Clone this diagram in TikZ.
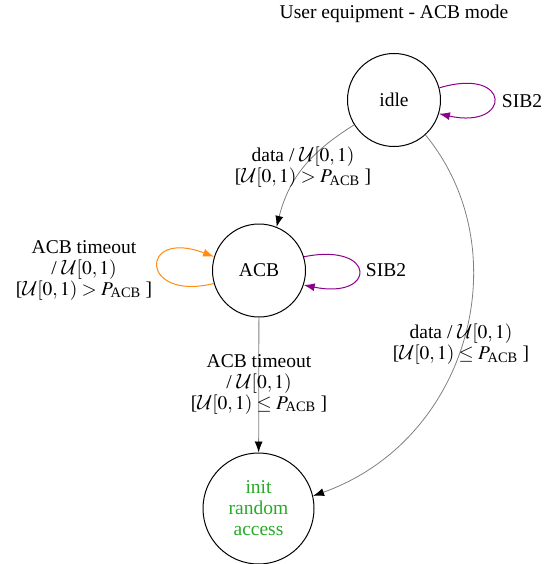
\documentclass[tikz,border=0pt]{standalone}
\usepackage{amsmath}
\usepackage{mathptmx}
\DeclareMathAlphabet{\mathcal}{OMS}{cmsy}{m}{n}
\usepackage{fontspec}
\setmainfont{Liberation Serif}
\usetikzlibrary{arrows.meta}
\definecolor{loopviolet}{RGB}{140,0,140}
\definecolor{looporange}{RGB}{255,140,20}
\definecolor{initgreen}{RGB}{40,170,40}
\definecolor{conngray}{RGB}{128,128,128}
\begin{document}
\begin{tikzpicture}[x=1pt,y=-1pt,
  every node/.style={font=\fontsize{19.5}{21}\selectfont},
  statenode/.style={circle,draw,line width=1pt,minimum size=93pt,inner sep=0pt},
  initnode/.style={statenode,minimum size=111pt,text=initgreen,align=center},
  lbl/.style={align=center,inner sep=0pt},
  conn/.style={draw=conngray,line width=0.8pt,-{Latex[length=11pt,width=8pt,black]}},
  sibloop/.style={draw=loopviolet,line width=1pt,-{Latex[length=11pt,width=8pt]}},
  toloop/.style={draw=looporange,line width=1pt,-{Latex[length=11pt,width=8pt]}}]
\useasboundingbox (0,0) rectangle (555,564);
\node (title) at (394,14) {User equipment - ACB mode};
\node[statenode] (idle) at (394,100) {idle};
\node[statenode] (ACB) at (259,270.5) {ACB};
\node[initnode] (init) at (258.5,508.5) {init\\random\\access};
% loops
\draw[sibloop] (idle.15) .. controls (512,66) and (512,130) .. (idle.-17);
\node (sibidle) at (522,101) {SIB2};
\draw[sibloop] (ACB.17) .. controls (377,242) and (377,300) .. (ACB.-18);
\node (sibacb) at (386,270) {SIB2};
\draw[toloop] (ACB.196) .. controls (139,302) and (139,228) .. (ACB.163);
\node[lbl] (lblto) at (84,270) {ACB timeout\\/ $\mathcal{U}[0,1)$\\{[}$\mathcal{U}[0,1) > P_{\text{ACB}}$ {]}};
% transitions
\draw[conn] (idle.212) .. controls (312,151) and (289,177) .. (ACB.68);
\node[lbl] (lbldata) at (303,167) {data / $\mathcal{U}[0,1)$\\{[}$\mathcal{U}[0,1) > P_{\text{ACB}}$ {]}};
\draw[conn] (ACB) -- (init);
\node[lbl] (lbltimeout) at (259,384) {ACB timeout\\/ $\mathcal{U}[0,1)$\\{[}$\mathcal{U}[0,1) \leq P_{\text{ACB}}$ {]}};
\draw[conn] (idle.-48) .. controls (520,250) and (470,440) .. (init.13);
\node[lbl] (lbldirect) at (461,344) {data / $\mathcal{U}[0,1)$\\{[}$\mathcal{U}[0,1) \leq P_{\text{ACB}}$ {]}};
\end{tikzpicture}
\end{document}
